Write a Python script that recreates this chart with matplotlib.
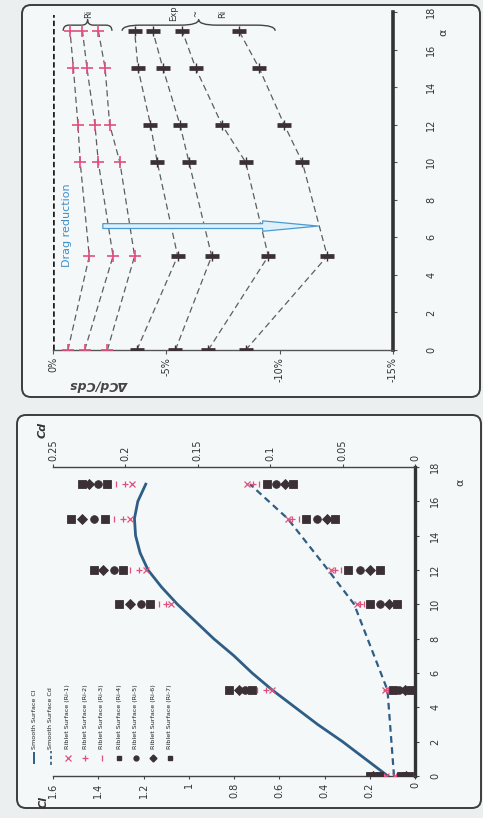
import matplotlib
matplotlib.use('Agg')
import matplotlib.pyplot as plt
from matplotlib.patches import FancyBboxPatch, PathPatch
from matplotlib.path import Path
import numpy as np

plt.rcParams['font.family'] = ['Liberation Sans Narrow', 'DejaVu Sans']

# ---------------- data ----------------
alpha_pts = [0, 5, 10, 12, 15, 17]
series_names = ['Ri-1', 'Ri-2', 'Ri-3', 'Ri-4', 'Ri-5', 'Ri-6', 'Ri-7']

# Panel A: drag change dCd/Cd_s (%)
dcd_ri1 = [-0.66, -1.6, -1.2, -1.1, -0.9, -0.75]
dcd_ri2 = [-1.4, -2.65, -2.0, -1.85, -1.5, -1.3]
dcd_ri3 = [-2.4, -3.6, -2.95, -2.5, -2.3, -2.0]
dcd_ri4 = [-3.7, -5.5, -4.6, -4.3, -3.75, -3.6]
dcd_ri5 = [-5.4, -7.0, -6.0, -5.6, -4.85, -4.4]
dcd_ri6 = [-6.85, -9.5, -8.5, -7.45, -6.3, -5.7]
dcd_ri7 = [-8.5, -12.1, -11.0, -10.2, -9.1, -8.2]
dcd_all = [dcd_ri1, dcd_ri2, dcd_ri3, dcd_ri4, dcd_ri5, dcd_ri6, dcd_ri7]

# Panel B: smooth surface
alpha_smooth_cl = [0, 1, 2, 3, 4, 5, 6, 7, 8, 9, 10, 11, 12, 13, 14, 15, 16, 17]
cl_smooth = [0.12, 0.22, 0.32, 0.43, 0.53, 0.63, 0.72, 0.80, 0.89, 0.97, 1.05,
             1.12, 1.18, 1.215, 1.235, 1.24, 1.225, 1.19]
cd_smooth = [0.0145, 0.019, 0.042, 0.060, 0.088, 0.114]

# Panel B: riblet surfaces (at alpha_pts)
cl_ri1 = [0.13, 0.63, 1.08, 1.19, 1.26, 1.25]
cl_ri2 = [0.14, 0.66, 1.10, 1.22, 1.29, 1.28]
cl_ri3 = [0.15, 0.70, 1.13, 1.26, 1.33, 1.32]
cl_ri4 = [0.16, 0.72, 1.17, 1.29, 1.37, 1.36]
cl_ri5 = [0.17, 0.75, 1.21, 1.33, 1.42, 1.40]
cl_ri6 = [0.185, 0.78, 1.26, 1.38, 1.47, 1.44]
cl_ri7 = [0.20, 0.82, 1.31, 1.42, 1.52, 1.47]
cl_all = [cl_ri1, cl_ri2, cl_ri3, cl_ri4, cl_ri5, cl_ri6, cl_ri7]

cd_ri1 = [0.0135, 0.021, 0.040, 0.058, 0.088, 0.116]
cd_ri2 = [0.013, 0.020, 0.038, 0.055, 0.085, 0.112]
cd_ri3 = [0.012, 0.0185, 0.035, 0.051, 0.080, 0.108]
cd_ri4 = [0.010, 0.015, 0.031, 0.046, 0.075, 0.102]
cd_ri5 = [0.008, 0.011, 0.024, 0.038, 0.068, 0.096]
cd_ri6 = [0.006, 0.007, 0.018, 0.031, 0.061, 0.090]
cd_ri7 = [0.004, 0.003, 0.0125, 0.024, 0.055, 0.084]
cd_all = [cd_ri1, cd_ri2, cd_ri3, cd_ri4, cd_ri5, cd_ri6, cd_ri7]

legend_labels = ['Smooth Surface Cl', 'Smooth Surface Cd',
                 'Riblet Surface (Ri-1)', 'Riblet Surface (Ri-2)', 'Riblet Surface (Ri-3)',
                 'Riblet Surface (Ri-4)', 'Riblet Surface (Ri-5)', 'Riblet Surface (Ri-6)',
                 'Riblet Surface (Ri-7)']

dcd_ticks = [0, -5, -10, -15]
dcd_ticklabels = ['0%', '-5%', '-10%', '-15%']
alpha_ticks = list(range(0, 19, 2))
cl_ticks = [0, 0.2, 0.4, 0.6, 0.8, 1.0, 1.2, 1.4, 1.6]
cl_ticklabels = ['0', '0.2', '0.4', '0.6', '0.8', '1', '1.2', '1.4', '1.6']
cd_ticks = [0, 0.05, 0.1, 0.15, 0.2, 0.25]
cd_ticklabels = ['0', '0.05', '0.1', '0.15', '0.2', '0.25']

# ---------------- styles ----------------
RED = '#e0507c'
DARK = '#3a3036'
BLUE = '#2e5d86'
GREY = '#5e5e5e'
TXT = '#333333'
red_markers_B = ['x', '+', '|']
dark_markers_B = ['s', 'o', 'D', 's']

W, H = 483, 818
fig = plt.figure(figsize=(W / 100, H / 100), dpi=100, facecolor='#eceff0')

bg = fig.add_axes([0, 0, 1, 1], zorder=-5)
bg.set_xlim(0, W)
bg.set_ylim(H, 0)
bg.axis('off')
for (x0, y0, x1, y1) in [(22, 5, 480, 397), (17, 415, 481, 808)]:
    r = 9
    bg.add_patch(FancyBboxPatch((x0 + r, y0 + r), x1 - x0 - 2 * r, y1 - y0 - 2 * r,
                                boxstyle='round,pad=%d' % r, fc='#f5f8f8', ec='#3c3c3c', lw=1.4))

# ================= Panel A =================
axA = fig.add_axes([53 / W, 1 - 350 / H, 340 / W, 338 / H])
axA.set_facecolor('none')
axA.set_xlim(0, -15)
axA.set_ylim(0, 18)
for s in ['left', 'top']:
    axA.spines[s].set_visible(False)
axA.spines['bottom'].set_color('#555555')
axA.spines['bottom'].set_linewidth(1.0)
axA.spines['right'].set_color('#333333')
axA.spines['right'].set_linewidth(2.6)
axA.yaxis.tick_right()
axA.set_xticks(dcd_ticks)
axA.set_xticklabels(dcd_ticklabels, rotation=90, fontsize=7, color=TXT)
axA.set_yticks(alpha_ticks)
axA.set_yticklabels([str(a) for a in alpha_ticks], rotation=90, fontsize=7, color=TXT, va='center')
axA.tick_params(axis='x', length=3, width=0.8, pad=2, colors='#555555', labelcolor=TXT)
axA.tick_params(axis='y', length=3, width=0.8, pad=21, colors='#555555', labelcolor=TXT)

axA.axvline(0, color='#1e1e1e', lw=2.6, ls=(0, (1.5, 0.8)), ymax=0.99)

for i, vals in enumerate(dcd_all):
    axA.plot(vals, alpha_pts, ls=(0, (5, 3)), color=GREY, lw=0.9, zorder=2)
    if i < 3:
        axA.plot(vals, alpha_pts, ls='none', marker='+', ms=8, mew=1.2, color=RED, zorder=3)
    else:
        axA.plot(vals, alpha_pts, ls='none', marker='_', ms=10, mew=3.4, color=DARK, zorder=3)
        axA.plot(vals, alpha_pts, ls='none', marker='|', ms=7, mew=1.0, color=DARK, zorder=3)


def brace(ax, xa, xb, y, h):
    xm = 0.5 * (xa + xb)
    d = (xb - xa) * 0.12
    verts = [(xa, y - h), (xa, y), (xa + d, y), (xm - d, y), (xm, y), (xm, y + h),
             (xm, y), (xm + d, y), (xb - d, y), (xb, y), (xb, y - h)]
    codes = [Path.MOVETO, Path.CURVE3, Path.CURVE3, Path.LINETO, Path.CURVE3, Path.CURVE3,
             Path.CURVE3, Path.CURVE3, Path.LINETO, Path.CURVE3, Path.CURVE3]
    ax.add_patch(PathPatch(Path(verts, codes), fc='none', ec='#444444', lw=1.0, clip_on=False))


last_red = [v[-1] for v in dcd_all[:3]]
last_dark = [v[-1] for v in dcd_all[3:]]
brace(axA, max(last_red) + 0.3, min(last_red) - 0.6, 17.3, 0.3)
brace(axA, max(last_dark) + 0.55, min(last_dark) - 1.6, 17.3, 0.3)
axA.text(-1.55, 17.92, 'Ri', rotation=90, fontsize=6, color=TXT, ha='center', va='center', clip_on=False)
for xv, t in [(-5.3, 'Exp'), (-6.3, '~'), (-7.5, 'Ri')]:
    axA.text(xv, 17.92, t, rotation=90, fontsize=6, color=TXT, ha='center', va='center', clip_on=False)

axA.annotate('', xy=(-11.7, 6.6), xytext=(-2.2, 6.6),
             arrowprops=dict(arrowstyle='simple,head_length=4,head_width=0.75,tail_width=0.35',
                             fc='#def0fa', ec='#4b9bd2', lw=0.9, mutation_scale=10, shrinkA=0, shrinkB=0),
             zorder=4)
axA.text(-0.6, 6.65, 'Drag reduction', rotation=90, fontsize=8, color='#3f8fc8',
         ha='center', va='center')

bg.text(100, 385, 'ΔCd/Cds', rotation=180, ha='center', va='center', fontsize=9,
        style='italic', weight='bold', color='#444444')
bg.text(443, 32, 'α', rotation=90, ha='center', va='center', fontsize=8, color=TXT)

# ================= Panel B =================
axB = fig.add_axes([53 / W, 1 - 776 / H, 362 / W, 309 / H])
axB.set_facecolor('none')
axB.set_xlim(1.6, 0)
axB.set_ylim(0, 18)
axC = axB.twiny()
axC.set_xlim(0.25, 0)
axC.set_facecolor('none')

axB.spines['left'].set_visible(False)
axB.spines['top'].set_visible(False)
axB.spines['bottom'].set_color('#444444')
axB.spines['bottom'].set_linewidth(1.0)
axB.spines['right'].set_color('#333333')
axB.spines['right'].set_linewidth(2.4)
for s in ['left', 'right', 'bottom']:
    axC.spines[s].set_visible(False)
axC.spines['top'].set_color('#444444')
axC.spines['top'].set_linewidth(1.0)

axB.yaxis.tick_right()
axB.set_xticks(cl_ticks)
axB.set_xticklabels(cl_ticklabels, rotation=90, fontsize=7, color=TXT)
axB.set_yticks(alpha_ticks)
axB.set_yticklabels([str(a) for a in alpha_ticks], rotation=90, fontsize=7, color=TXT, va='center')
axC.set_xticks(cd_ticks)
axC.set_xticklabels(cd_ticklabels, rotation=90, fontsize=7, color=TXT)
axB.tick_params(axis='x', length=2.5, width=0.8, pad=2, colors='#444444', labelcolor=TXT)
axB.tick_params(axis='y', length=3, width=0.8, pad=8, colors='#444444', labelcolor=TXT)
axC.tick_params(axis='x', length=2.5, width=0.8, pad=2, colors='#444444', labelcolor=TXT)

axB.plot(cl_smooth, alpha_smooth_cl, color=BLUE, lw=2.0, zorder=3)
axC.plot(cd_smooth, alpha_pts, color=BLUE, lw=1.6, ls=(0, (3, 2)), zorder=3)

for i in range(7):
    if i < 3:
        kw = dict(marker=red_markers_B[i], color=RED, ms=5, mew=0.9, ls='none')
    else:
        kw = dict(marker=dark_markers_B[i - 3], color=DARK, mfc=DARK, ms=5.5, mew=0.6, ls='none')
    axB.plot(cl_all[i], alpha_pts, zorder=4, **kw)
    axC.plot(cd_all[i], alpha_pts, zorder=4, **kw)

# manual legend (rotated, as in the scan)
for i, lab in enumerate(legend_labels):
    x = 34 + 17 * i
    if i == 0:
        bg.plot([x, x], [763, 753], color=BLUE, lw=1.4)
    elif i == 1:
        bg.plot([x, x], [765, 751], color=BLUE, lw=1.2, ls=(0, (2, 1.5)))
    elif i < 5:
        bg.plot([x], [758], marker=red_markers_B[i - 2], color=RED, ms=4, mew=0.9, ls='none')
    else:
        bg.plot([x], [758], marker=dark_markers_B[i - 5], color=DARK, ms=3.5, ls='none')
    bg.text(x, 749, lab, rotation=90, fontsize=4.6, color='#222222', ha='center', va='bottom')

bg.text(43, 430, 'Cd', rotation=90, ha='center', va='center', fontsize=8,
        style='italic', weight='bold', color='#333333')
bg.text(44, 802, 'Cl', rotation=90, ha='center', va='center', fontsize=8,
        style='italic', weight='bold', color='#333333')
bg.text(460, 482, 'α', rotation=90, ha='center', va='center', fontsize=8, color=TXT)

fig.savefig('out.png', dpi=100, facecolor=fig.get_facecolor())
